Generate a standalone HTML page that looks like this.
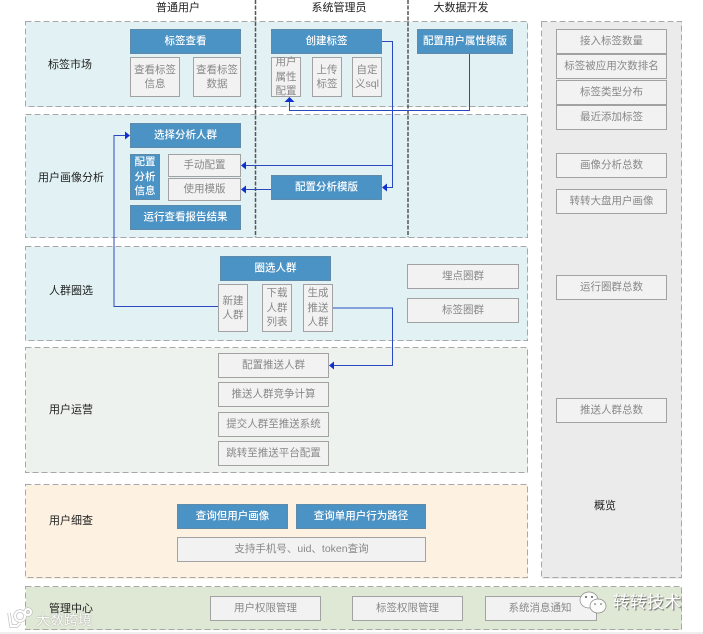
<!DOCTYPE html>
<html><head><meta charset="utf-8">
<style>
html,body{margin:0;padding:0;background:#fff}
#p{position:relative;width:703px;height:634px;overflow:hidden;background:#fff;font-family:"Liberation Sans","Noto Sans CJK SC",sans-serif;filter:blur(.35px)}
#p div{position:absolute;box-sizing:border-box}
.t{background:#e2f2f4}.g{background:#eef2ee}.o{background:#fdf2e1}.m{background:#dfe8d5}.r{background:#ebebeb}
.b,.w{display:flex;align-items:center;justify-content:center;text-align:center;font-size:10.5px;line-height:14.5px}
.b{background:#4b93c5;color:#fff;border:1.5px solid #5f8ba8;font-weight:500}
.w{background:#f2f2f2;color:#888;border:1.5px solid #a2a2a2}
.l{font-size:11px;line-height:14px;color:#222;text-align:center;white-space:nowrap;transform:translateX(-50%)}
.wm{color:#fff;white-space:nowrap}
</style></head><body><div id="p">
<div class="t" style="left:26px;top:22px;width:502px;height:85px"></div>
<div class="t" style="left:26px;top:115px;width:502px;height:123px"></div>
<div class="t" style="left:26px;top:247px;width:502px;height:94px"></div>
<div class="g" style="left:26px;top:348px;width:502px;height:125px"></div>
<div class="o" style="left:26px;top:485px;width:502px;height:94px"></div>
<div class="r" style="left:542px;top:22px;width:140px;height:557px"></div>
<div class="m" style="left:26px;top:587px;width:656px;height:43px"></div>
<svg width="703" height="634" style="position:absolute;left:0;top:0">
<g fill="none" stroke="#a8a8a8" stroke-width="1" stroke-dasharray="6 3">
<rect x="25.5" y="21.5" width="502" height="85"/>
<rect x="25.5" y="114.5" width="502" height="123"/>
<rect x="25.5" y="246.5" width="502" height="94"/>
<rect x="25.5" y="347.5" width="502" height="125"/>
<rect x="25.5" y="484.5" width="502" height="93"/>
<rect x="541.5" y="21.5" width="140" height="556"/>
<rect x="25.5" y="586.5" width="656" height="43"/>
</g>
</svg>

<div class="l" style="left:178px;top:1px">普通用户</div>
<div class="l" style="left:339px;top:1px">系统管理员</div>
<div class="l" style="left:461px;top:1px">大数据开发</div>
<div class="l" style="left:70px;top:58px">标签市场</div>
<div class="l" style="left:71px;top:171px">用户画像分析</div>
<div class="l" style="left:71px;top:284px">人群圈选</div>
<div class="l" style="left:71px;top:403px">用户运营</div>
<div class="l" style="left:71px;top:514px">用户细查</div>
<div class="l" style="left:71px;top:602px">管理中心</div>
<div class="l" style="left:605px;top:499px">概览</div>

<div class="b" style="left:130px;top:29px;width:111px;height:25px">标签查看</div>
<div class="b" style="left:271px;top:29px;width:111px;height:25px">创建标签</div>
<div class="b" style="left:417px;top:29px;width:96px;height:25px">配置用户属性模版</div>
<div class="w" style="left:130px;top:57px;width:50px;height:40px">查看标签<br>信息</div>
<div class="w" style="left:193px;top:57px;width:48px;height:40px">查看标签<br>数据</div>
<div class="w" style="left:271px;top:57px;width:30px;height:40px">用户<br>属性<br>配置</div>
<div class="w" style="left:312px;top:57px;width:30px;height:40px">上传<br>标签</div>
<div class="w" style="left:352px;top:57px;width:30px;height:40px">自定<br>义sql</div>

<div class="b" style="left:130px;top:123px;width:111px;height:25px">选择分析人群</div>
<div class="b" style="left:130px;top:154px;width:30px;height:46px">配置<br>分析<br>信息</div>
<div class="w" style="left:168px;top:154px;width:73px;height:23px">手动配置</div>
<div class="w" style="left:168px;top:178px;width:73px;height:23px">使用模版</div>
<div class="b" style="left:130px;top:205px;width:111px;height:25px">运行查看报告结果</div>
<div class="b" style="left:271px;top:175px;width:111px;height:25px">配置分析模版</div>

<div class="b" style="left:220px;top:256px;width:111px;height:25px">圈选人群</div>
<div class="w" style="left:218px;top:284px;width:30px;height:48px">新建<br>人群</div>
<div class="w" style="left:262px;top:284px;width:30px;height:48px">下载<br>人群<br>列表</div>
<div class="w" style="left:303px;top:284px;width:30px;height:48px">生成<br>推送<br>人群</div>
<div class="w" style="left:407px;top:264px;width:112px;height:25px">埋点圈群</div>
<div class="w" style="left:407px;top:298px;width:112px;height:25px">标签圈群</div>

<div class="w" style="left:218px;top:353px;width:111px;height:25px">配置推送人群</div>
<div class="w" style="left:218px;top:382px;width:111px;height:25px">推送人群竞争计算</div>
<div class="w" style="left:218px;top:412px;width:111px;height:25px">提交人群至推送系统</div>
<div class="w" style="left:218px;top:441px;width:111px;height:25px">跳转至推送平台配置</div>

<div class="b" style="left:177px;top:504px;width:111px;height:25px">查询但用户画像</div>
<div class="b" style="left:296px;top:504px;width:130px;height:25px">查询单用户行为路径</div>
<div class="w" style="left:177px;top:537px;width:249px;height:25px">支持手机号、uid、token查询</div>

<div class="w" style="left:210px;top:596px;width:111px;height:25px">用户权限管理</div>
<div class="w" style="left:352px;top:596px;width:111px;height:25px">标签权限管理</div>
<div class="w" style="left:485px;top:596px;width:112px;height:25px;padding-right:2px">系统消息通知</div>

<div class="w" style="left:556px;top:29px;width:111px;height:25px">接入标签数量</div>
<div class="w" style="left:556px;top:54px;width:111px;height:25px">标签被应用次数排名</div>
<div class="w" style="left:556px;top:80px;width:111px;height:25px">标签类型分布</div>
<div class="w" style="left:556px;top:105px;width:111px;height:25px">最近添加标签</div>
<div class="w" style="left:556px;top:153px;width:111px;height:25px">画像分析总数</div>
<div class="w" style="left:556px;top:189px;width:111px;height:25px">转转大盘用户画像</div>
<div class="w" style="left:556px;top:275px;width:111px;height:25px">运行圈群总数</div>
<div class="w" style="left:556px;top:398px;width:111px;height:25px">推送人群总数</div>

<svg width="703" height="634" style="position:absolute;left:0;top:0">
<g fill="none">
<line x1="255.5" y1="0" x2="255.5" y2="237" stroke="#555" stroke-width="1.5" stroke-dasharray="4 1.5"/>
<line x1="408" y1="0" x2="408" y2="237" stroke="#555" stroke-width="1.5" stroke-dasharray="4 1.5"/>
<g stroke="#2a49c0" stroke-width="1">
<path d="M382 41.5H392.5V187.5H386"/>
<path d="M392.5 165.5H245"/>
<path d="M271 189.5H245"/>
<path d="M469.5 54V110.5H289.5V102"/>
<path d="M218 306.5H114V135.5H126"/>
<path d="M333 308H392.5V365.5H334"/>
</g>
</g>
<g fill="#0f2fd0">
<path d="M382 187.5l5-4v8z"/>
<path d="M241 165.5l5-4v8z"/>
<path d="M241 189.5l5-4v8z"/>
<path d="M289.5 97l-5 5h10z"/>
<path d="M130 135.5l-5-4v8z"/>
<path d="M329 365.5l5-4v8z"/>
</g>
<g fill="#fff" fill-opacity=".9" stroke="#888" stroke-width=".7">
<ellipse cx="589" cy="600" rx="9" ry="8"/>
<ellipse cx="598" cy="606" rx="8" ry="7"/>
</g>
<g fill="#555"><circle cx="586" cy="597" r="1"/><circle cx="592" cy="597" r="1"/><circle cx="595" cy="604" r=".8"/><circle cx="601" cy="604" r=".8"/></g>
<rect x="0" y="632" width="703" height="2" fill="#eee"/>
<g fill="none" stroke="#c4c4c4" stroke-width="3.5">
<path d="M9 613l2 13h6l3-3"/>
<circle cx="20" cy="616" r="5"/>
<circle cx="28" cy="612" r="3"/>
</g>
<g fill="none" stroke="#fff" stroke-width="2">
<path d="M9 613l2 13h6l3-3"/>
<circle cx="20" cy="616" r="5"/>
<circle cx="28" cy="612" r="3"/>
</g>
</svg>
<div class="wm" style="left:36px;top:611px;font-size:14px;line-height:18px;opacity:.9;text-shadow:0 0 1.5px #888">大数跨境</div>
<div class="wm" style="left:613px;top:593px;font-size:17px;line-height:20px;text-shadow:1px 1px 1px #666">转转技术</div>
</div></body></html>
